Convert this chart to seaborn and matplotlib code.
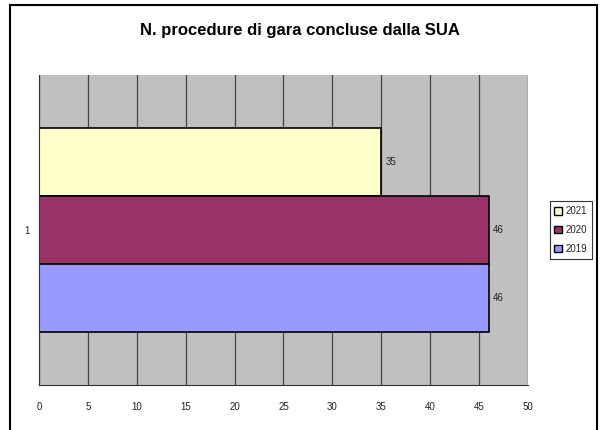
import matplotlib.pyplot as plt
import matplotlib.patches as mpatches
import pandas as pd
import seaborn as sns

years = ['2021', '2020', '2019']
values = [35, 46, 46]
category = ['1', '1', '1']
colors = ['#FFFFCC', '#993366', '#9999FF']
x_ticks = [0, 5, 10, 15, 20, 25, 30, 35, 40, 45, 50]

df = pd.DataFrame({'cat': category, 'year': years, 'value': values})

sns.set_style('white')
plt.rcParams['font.family'] = ['Liberation Sans', 'DejaVu Sans']

fig = plt.figure(figsize=(6, 4.3), dpi=100)
ax = fig.add_axes([0.065, 0.105, 0.815, 0.72])

sns.barplot(data=df, x='value', y='cat', hue='year', hue_order=years,
            palette=colors, saturation=1, orient='h', width=0.8,
            edgecolor='black', linewidth=1.2, legend=False, ax=ax)

ax.set_facecolor('#C0C0C0')
ax.set_xlim(0, 50)
ax.set_ylim(0.605, -0.605)
ax.set_xticks(x_ticks)
ax.set_xticklabels([str(t) for t in x_ticks], fontsize=7, color='#222222')
ax.set_yticks([0])
ax.set_yticklabels(['1'], fontsize=7, color='#222222')
ax.tick_params(axis='y', length=0, pad=7)
ax.tick_params(axis='x', length=3, width=0.8, direction='inout', pad=11, color='#333333')
ax.set_xlabel('')
ax.set_ylabel('')
ax.xaxis.grid(True, color='#444444', linewidth=0.9)
ax.set_axisbelow(True)
for s in ['top', 'right']:
    ax.spines[s].set_visible(False)
ax.spines['left'].set_color('#333333')
ax.spines['bottom'].set_color('#333333')
ax.spines['left'].set_linewidth(0.8)
ax.spines['bottom'].set_linewidth(0.8)
ax.set_yticks([-0.605, 0.605], minor=True)
ax.tick_params(axis='y', which='minor', length=3, direction='inout', color='#333333')

for bar, v in zip(ax.patches, values):
    ax.text(bar.get_width() + 0.4, bar.get_y() + bar.get_height() / 2, str(v),
            va='center', ha='left', fontsize=7, color='#222222')

fig.text(0.5, 0.928, 'N. procedure di gara concluse dalla SUA', ha='center',
         va='center', fontsize=12, fontweight='bold', color='black')

handles = [mpatches.Patch(facecolor=c, edgecolor='black', label=y)
           for c, y in zip(colors, years)]
leg = fig.legend(handles=handles, loc='center', bbox_to_anchor=(0.951, 0.465),
                 fontsize=7, frameon=True, fancybox=False, handlelength=0.8,
                 handleheight=0.8, handletextpad=0.3, borderpad=0.5,
                 labelspacing=0.9, edgecolor='black')
leg.get_frame().set_linewidth(0.8)

border = mpatches.Rectangle((10 / 600, -0.05), 587 / 600, 1.038,
                            transform=fig.transFigure, fill=False,
                            edgecolor='black', linewidth=1.5)
fig.patches.append(border)

fig.savefig('out.png', dpi=100)
